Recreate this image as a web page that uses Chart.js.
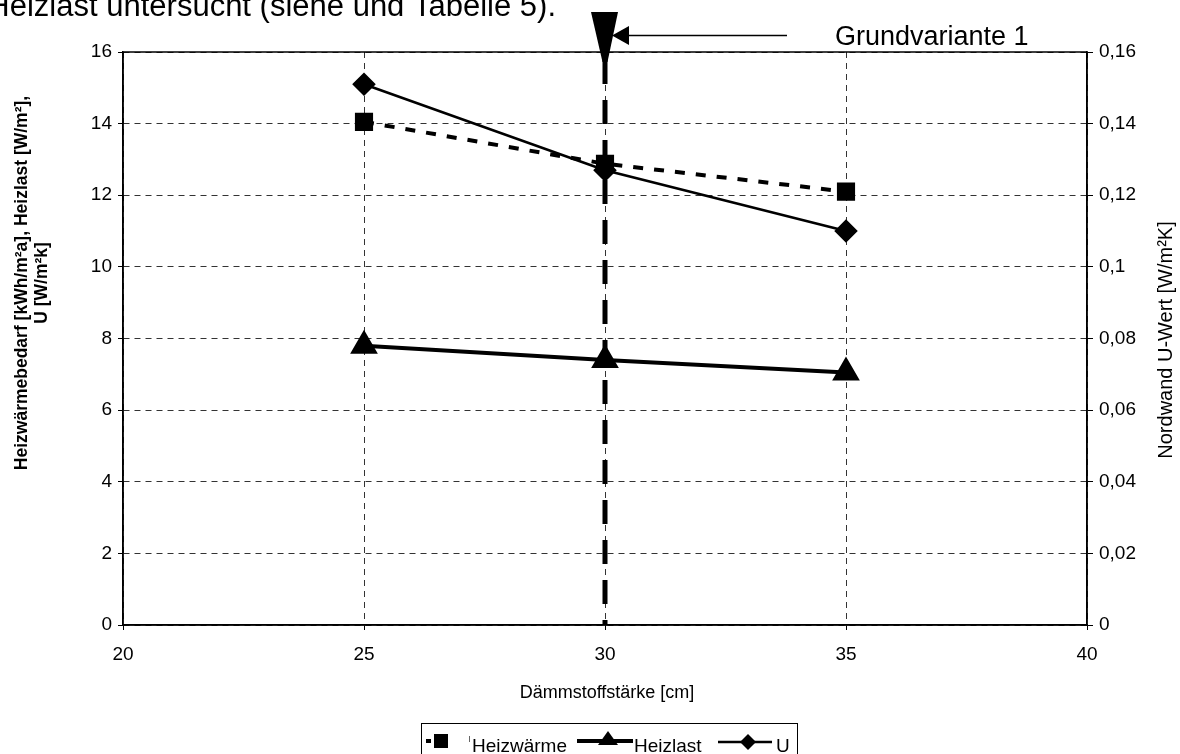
<!DOCTYPE html>
<html>
<head>
<meta charset="utf-8">
<script src="https://cdn.jsdelivr.net/npm/chart.js@4/dist/chart.umd.min.js"></script>
<style>
html,body{margin:0;padding:0;background:#fff;}
#wrap{position:relative;width:1180px;height:754px;}
</style>
</head>
<body>
<div id="wrap"><canvas id="c" width="1180" height="754"></canvas></div>
<script>
// ---- data ----
const xValues = [25, 30, 35];
const heizwaerme = [14.05, 12.88, 12.1];
const heizlast = [7.8, 7.4, 7.05];
const uWert = [0.151, 0.127, 0.110];
const seriesNames = ['Heizwärme', 'Heizlast', 'U'];
const markerX = 30;
const annotationText = 'Grundvariante 1';
const headerText = 'Heizlast untersucht (siehe und Tabelle 5).';
const xTitle = 'Dämmstoffstärke [cm]';
const yTitleLines = ['Heizwärmebedarf [kWh/m²a], Heizlast [W/m²],', 'U [W/m²k]'];
const y2Title = 'Nordwand U-Wert [W/m²K]';

const FONT = "'Liberation Sans', Arial, sans-serif";
const LEFT = 123, RIGHT = 1087, TOP = 52, BOTTOM = 625;

const pts = (ys) => xValues.map((x, i) => ({x: x, y: ys[i]}));

const decor = {
  id: 'decor',
  beforeDatasetsDraw(chart) {
    const ctx = chart.ctx, a = chart.chartArea;
    const xs = chart.scales.x;
    const px = xs.getPixelForValue(markerX);
    ctx.save();
    // solid frame
    ctx.strokeStyle = '#000'; ctx.lineWidth = 1.5; ctx.setLineDash([]);
    ctx.strokeRect(a.left, a.top, a.right - a.left, a.bottom - a.top);
    // thick dashed vertical
    ctx.lineWidth = 5; ctx.setLineDash([24, 16]);
    ctx.beginPath(); ctx.moveTo(px, 60); ctx.lineTo(px, a.bottom); ctx.stroke();
    ctx.setLineDash([]);
    ctx.restore();
  },
  afterDraw(chart) {
    const ctx = chart.ctx, a = chart.chartArea;
    const xs = chart.scales.x;
    const px = xs.getPixelForValue(markerX);
    ctx.save();
    // pointer shape
    ctx.fillStyle = '#000';
    ctx.beginPath();
    ctx.moveTo(px - 14, 12); ctx.lineTo(px + 13, 12);
    ctx.lineTo(px + 2.5, 62); ctx.lineTo(px - 2.5, 62); ctx.closePath(); ctx.fill();
    // arrow
    ctx.strokeStyle = '#000'; ctx.lineWidth = 1.5;
    ctx.beginPath(); ctx.moveTo(787, 35.5); ctx.lineTo(626, 35.5); ctx.stroke();
    ctx.beginPath(); ctx.moveTo(612, 35.5); ctx.lineTo(629, 26); ctx.lineTo(629, 45); ctx.closePath(); ctx.fill();
    // annotation text
    ctx.fillStyle = '#000';
    ctx.font = '27px ' + FONT; ctx.textAlign = 'left'; ctx.textBaseline = 'alphabetic';
    ctx.fillText(annotationText, 835, 45);
    // header text (cut)
    ctx.font = '31px ' + FONT; ctx.textAlign = 'right';
    ctx.fillText(headerText, 556, 16);
    // x title
    ctx.font = '18px ' + FONT; ctx.textAlign = 'center';
    ctx.fillText(xTitle, 607, 698);
    // left title
    ctx.save();
    ctx.translate(22, 283); ctx.rotate(-Math.PI / 2);
    ctx.font = 'bold 17.5px ' + FONT; ctx.textAlign = 'center'; ctx.textBaseline = 'middle';
    ctx.fillText(yTitleLines[0], 0, 0);
    ctx.fillText(yTitleLines[1], 0, 20);
    ctx.restore();
    // right title
    ctx.save();
    ctx.translate(1166, 340); ctx.rotate(-Math.PI / 2);
    ctx.font = '20px ' + FONT; ctx.textAlign = 'center'; ctx.textBaseline = 'middle';
    ctx.fillText(y2Title, 0, 0);
    ctx.restore();
    // legend
    ctx.strokeStyle = '#000'; ctx.lineWidth = 1;
    ctx.strokeRect(421.5, 723.5, 376, 40);
    const ly = 741;
    // item 1
    ctx.lineWidth = 4; ctx.setLineDash([5, 6]);
    ctx.beginPath(); ctx.moveTo(426, ly); ctx.lineTo(440, ly); ctx.stroke();
    ctx.setLineDash([]);
    ctx.fillRect(434, ly - 7, 14, 14);
    ctx.lineWidth = 1; ctx.strokeStyle = '#666';
    ctx.beginPath(); ctx.moveTo(469.5, ly - 5); ctx.lineTo(469.5, ly + 1); ctx.stroke();
    ctx.strokeStyle = '#000';
    ctx.font = '19px ' + FONT; ctx.textAlign = 'left'; ctx.textBaseline = 'alphabetic';
    ctx.fillText(seriesNames[0], 472, 752);
    // item 2
    ctx.lineWidth = 4;
    ctx.beginPath(); ctx.moveTo(577, ly); ctx.lineTo(633, ly); ctx.stroke();
    ctx.beginPath(); ctx.moveTo(608, ly - 10); ctx.lineTo(618, ly + 4); ctx.lineTo(598, ly + 4); ctx.closePath(); ctx.fill();
    ctx.fillText(seriesNames[1], 634, 752);
    // item 3
    ctx.lineWidth = 2.5;
    ctx.beginPath(); ctx.moveTo(718, ly + 1); ctx.lineTo(772, ly + 1); ctx.stroke();
    ctx.beginPath(); ctx.moveTo(748, ly - 7); ctx.lineTo(756, ly + 1); ctx.lineTo(748, ly + 9); ctx.lineTo(740, ly + 1); ctx.closePath(); ctx.fill();
    ctx.fillText(seriesNames[2], 776, 752);
    ctx.restore();
  }
};

const gridCommon = {color: '#333', lineWidth: 1, tickBorderDash: [], tickColor: '#000', tickLength: 5};

new Chart(document.getElementById('c'), {
  type: 'line',
  data: {
    datasets: [
      {label: seriesNames[0], data: pts(heizwaerme), yAxisID: 'y', borderColor: '#000', backgroundColor: '#000',
       borderWidth: 4, borderDash: [10, 11], pointStyle: 'rect', pointRadius: 10, pointHoverRadius: 10},
      {label: seriesNames[1], data: pts(heizlast), yAxisID: 'y', borderColor: '#000', backgroundColor: '#000',
       borderWidth: 4, pointStyle: 'triangle', pointRadius: 12, pointHoverRadius: 12},
      {label: seriesNames[2], data: pts(uWert), yAxisID: 'y1', borderColor: '#000', backgroundColor: '#000',
       borderWidth: 2.5, pointStyle: 'rectRot', pointRadius: 10, pointHoverRadius: 10}
    ]
  },
  options: {
    responsive: false, animation: false,
    layout: {padding: {top: TOP, left: 0, right: 0, bottom: 0}},
    plugins: {legend: {display: false}, tooltip: {enabled: false}, title: {display: false}},
    scales: {
      x: {
        type: 'linear', min: 20, max: 40,
        ticks: {stepSize: 5, color: '#000', font: {family: FONT, size: 19}, padding: 13},
        grid: gridCommon,
        border: {display: true, color: '#000', width: 1.5, dash: [6, 5]},
        afterFit(s) { s.height = 754 - BOTTOM; }
      },
      y: {
        position: 'left', min: 0, max: 16,
        ticks: {stepSize: 2, color: '#000', font: {family: FONT, size: 19}, padding: 6},
        grid: gridCommon,
        border: {display: true, color: '#000', width: 1.5, dash: [6, 5]},
        afterFit(s) { s.width = LEFT; }
      },
      y1: {
        position: 'right', min: 0, max: 0.16,
        ticks: {stepSize: 0.02, color: '#000', font: {family: FONT, size: 19}, padding: 6,
          callback: (v) => String(Number(v.toFixed(2))).replace('.', ',')},
        grid: {drawOnChartArea: false, tickBorderDash: [], tickColor: '#000', tickLength: 6},
        border: {display: true, color: '#000', width: 1.5},
        afterFit(s) { s.width = 1180 - RIGHT; }
      }
    }
  },
  plugins: [decor]
});
</script>
</body>
</html>
